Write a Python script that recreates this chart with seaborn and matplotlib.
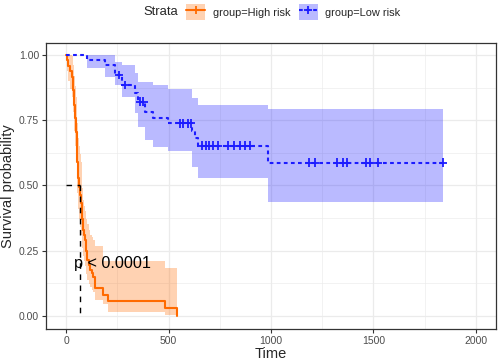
import numpy as np
import pandas as pd
import matplotlib
matplotlib.use("Agg")
import matplotlib.pyplot as plt
from matplotlib.lines import Line2D
from matplotlib.patches import Patch
from matplotlib.ticker import MultipleLocator, FormatStrFormatter
import seaborn as sns

# ---- data ----
high_time = [0, 5, 10, 18, 28, 33, 38, 43, 47, 51, 55, 59, 63, 68, 72, 77, 80, 84, 88, 93,
             98, 101, 110, 117, 125, 133, 141, 182, 206, 483, 543]
high_surv = [1.0, 0.979, 0.958, 0.938, 0.917, 0.865, 0.81, 0.76, 0.706, 0.65, 0.59, 0.53,
             0.495, 0.464, 0.433, 0.406, 0.37, 0.33, 0.31, 0.291, 0.25, 0.215, 0.195, 0.176,
             0.163, 0.15, 0.106, 0.080, 0.055, 0.029, 0.0]
high_lower = [1.0, 0.94, 0.90, 0.87, 0.84, 0.78, 0.71, 0.65, 0.59, 0.53, 0.47, 0.41, 0.37,
              0.34, 0.31, 0.29, 0.26, 0.23, 0.21, 0.19, 0.16, 0.135, 0.12, 0.11, 0.10, 0.09,
              0.06, 0.045, 0.016, 0.004, 0.004]
high_upper = [1.0, 1.0, 1.0, 1.0, 0.995, 0.96, 0.92, 0.88, 0.84, 0.79, 0.74, 0.68, 0.65,
              0.62, 0.59, 0.53, 0.49, 0.445, 0.42, 0.40, 0.37, 0.35, 0.33, 0.31, 0.30, 0.29,
              0.266, 0.208, 0.208, 0.183, 0.183]

low_time = [0, 101, 190, 240, 275, 337, 353, 385, 426, 499, 613, 630, 645, 987, 1839]
low_surv = [1.0, 0.981, 0.962, 0.923, 0.885, 0.855, 0.821, 0.783, 0.760, 0.738, 0.710,
            0.682, 0.652, 0.587, 0.587]
low_lower = [1.0, 0.949, 0.917, 0.885, 0.84, 0.777, 0.725, 0.674, 0.649, 0.63, 0.572,
             0.572, 0.527, 0.436, 0.436]
low_upper = [1.0, 1.0, 1.0, 0.974, 0.96, 0.93, 0.898, 0.898, 0.885, 0.87, 0.834, 0.834,
             0.808, 0.793, 0.793]

low_censor = [258, 288, 361, 377, 556, 572, 597, 610, 662, 681, 698, 719, 740, 792, 821,
              849, 873, 898, 1185, 1215, 1322, 1351, 1371, 1463, 1483, 1522, 1839]

median_high = 66
pval_text = "p < 0.0001"

groups = ["group=High risk", "group=Low risk"]
colors = {"group=High risk": "#FF6A00", "group=Low risk": "#1C1CFF"}


def surv_at(times, surv, t):
    idx = np.searchsorted(times, t, side="right") - 1
    return surv[idx]


curves = pd.concat([
    pd.DataFrame({"time": high_time, "surv": high_surv, "strata": groups[0]}),
    pd.DataFrame({"time": low_time, "surv": low_surv, "strata": groups[1]}),
])
censor = pd.DataFrame({
    "time": low_censor,
    "surv": [surv_at(low_time, low_surv, t) for t in low_censor],
    "strata": groups[1],
})

sns.set_theme(style="white")
plt.rcParams["font.family"] = ["Liberation Sans", "DejaVu Sans"]

fig = plt.figure(figsize=(4.98, 3.63), dpi=100)
ax = fig.add_axes([0.0924, 0.0937, 0.9036, 0.7878])

# confidence ribbons
ax.fill_between(high_time, high_lower, high_upper, step="post",
                color=colors[groups[0]], alpha=0.3, linewidth=0, zorder=2)
ax.fill_between(low_time, low_lower, low_upper, step="post",
                color=colors[groups[1]], alpha=0.3, linewidth=0, zorder=2)

sns.lineplot(data=curves, x="time", y="surv", hue="strata", style="strata",
             palette=colors, dashes={groups[0]: "", groups[1]: (1.8, 1.6)},
             estimator=None, drawstyle="steps-post", linewidth=1.5,
             legend=False, ax=ax, zorder=3)
sns.scatterplot(data=censor, x="time", y="surv", hue="strata", palette=colors,
                marker="+", s=40, linewidth=1.3, legend=False, ax=ax, zorder=4)

# median survival lines
ax.plot([0, median_high], [0.5, 0.5], color="black", lw=1.0, ls=(0, (4, 4)), zorder=5)
ax.plot([median_high, median_high], [0.5, 0], color="black", lw=1.0, ls=(0, (4, 4)), zorder=5)

ax.text(37, 0.2, pval_text, fontsize=11.7, ha="left", va="center", color="black", zorder=6)

ax.set_xlim(-98, 2098)
ax.set_ylim(-0.051, 1.046)
ax.xaxis.set_major_locator(MultipleLocator(500))
ax.xaxis.set_minor_locator(MultipleLocator(250))
ax.yaxis.set_major_locator(MultipleLocator(0.25))
ax.yaxis.set_minor_locator(MultipleLocator(0.125))
ax.yaxis.set_major_formatter(FormatStrFormatter("%.2f"))
ax.grid(which="major", color="#EBEBEB", lw=0.9, zorder=0)
ax.grid(which="minor", color="#EBEBEB", lw=0.45, zorder=0)
ax.set_axisbelow(True)
for sp in ax.spines.values():
    sp.set_color("#333333")
    sp.set_linewidth(0.9)
ax.tick_params(which="major", direction="out", length=3, width=0.8, color="#333333",
               labelsize=7.5, labelcolor="#4D4D4D", pad=2, bottom=True, left=True)
ax.tick_params(which="minor", length=0)
ax.set_xlabel("Time", fontsize=10.5, labelpad=1)
ax.set_ylabel("Survival probability", fontsize=10.5, labelpad=3)

# legend on top
fig.text(143 / 498, 1 - 12 / 363, "Strata", fontsize=9.4, ha="left", va="center")
handles = [
    (Patch(facecolor=colors[g], alpha=0.3, edgecolor="none"),
     Line2D([], [], color=colors[g], lw=1.5, marker="+", markersize=6,
            markeredgewidth=1.3, ls="-" if i == 0 else (0, (1.8, 1.6))))
    for i, g in enumerate(groups)
]
fig.legend(handles, groups, loc="center left", bbox_to_anchor=(183 / 498, 1 - 12 / 363),
           ncol=2, frameon=False, fontsize=7.9, handlelength=1.73, handleheight=1.73,
           handletextpad=0.7, columnspacing=0.75, borderaxespad=0, borderpad=0.3)

fig.savefig("out.png", dpi=100)
